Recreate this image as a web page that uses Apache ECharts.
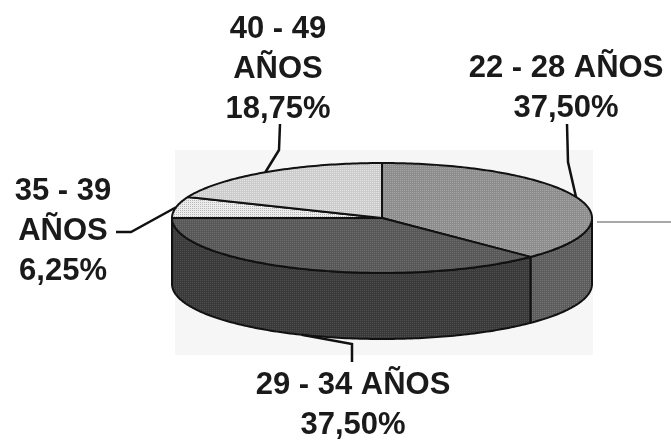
<!DOCTYPE html>
<html>
<head>
<meta charset="utf-8">
<script src="https://cdn.jsdelivr.net/npm/echarts@6/dist/echarts.min.js"></script>
<style>
  html, body { margin: 0; padding: 0; background: #ffffff; }
  #chart { width: 671px; height: 444px; }
</style>
</head>
<body>
<div id="chart"></div>
<script>
// Age groups and their share of the total (percent)
var categories = ['22 - 28 AÑOS', '29 - 34 AÑOS', '35 - 39 AÑOS', '40 - 49 AÑOS'];
var shares = [37.50, 37.50, 6.25, 18.75];

// Tilted pie geometry
var PIE = { cx: 382, cy: 218, rx: 210, ry: 55, depth: 66 };

// Per-slice fills: top face and side wall, with the dot texture tone
var sliceStyles = [
  { top: '#8c8c8c', topDot: '#a8a8a8', side: '#5c5c5c', sideDot: '#767676' },
  { top: '#575757', topDot: '#6e6e6e', side: '#3a3a3a', sideDot: '#4e4e4e' },
  { top: '#ececec', topDot: '#b8b8b8', side: '#cfcfcf', sideDot: '#aaaaaa' },
  { top: '#cbcbcb', topDot: '#e6e6e6', side: '#9c9c9c', sideDot: '#b4b4b4' }
];

// Label placement: text centre, line breaking, leader knee points
var labelLayout = [
  { x: 566, y: 88, wrap: false, lead: [[567, 124], [568, 162]], onSide: false },
  { x: 353, y: 405, wrap: false, lead: [[352, 362], [352, 344]], onSide: true },
  { x: 63, y: 231, wrap: true, lead: [[116, 232], [131, 232]], onSide: false },
  { x: 278, y: 69, wrap: true, lead: [[280, 124], [279, 150]], onSide: false }
];

function makePattern(base, dot) {
  var c = document.createElement('canvas');
  c.width = 4; c.height = 4;
  var g = c.getContext('2d');
  g.fillStyle = base; g.fillRect(0, 0, 4, 4);
  g.fillStyle = dot;
  g.fillRect(0, 0, 1, 1); g.fillRect(2, 2, 1, 1);
  g.fillRect(2, 0, 1, 1); g.fillRect(0, 2, 1, 1);
  return { image: c, repeat: 'repeat' };
}

function rimPoint(deg, dy) {
  var t = deg * Math.PI / 180;
  return [PIE.cx + PIE.rx * Math.sin(t), PIE.cy - PIE.ry * Math.cos(t) + (dy || 0)];
}

function arcPoints(a0, a1, dy) {
  var pts = [];
  var n = Math.max(2, Math.ceil(Math.abs(a1 - a0)));
  for (var i = 0; i <= n; i++) pts.push(rimPoint(a0 + (a1 - a0) * i / n, dy));
  return pts;
}

function fmtPct(v) { return v.toFixed(2).replace('.', ',') + '%'; }

var total = shares.reduce(function (s, v) { return s + v; }, 0);
var starts = [];
(function () {
  var acc = 0;
  for (var i = 0; i < shares.length; i++) { starts.push(acc / total * 360); acc += shares[i]; }
})();

function renderSlice(params, api) {
  var i = params.dataIndex;
  var value = api.value(0);
  var a0 = starts[i];
  var a1 = a0 + value / total * 360;
  var st = sliceStyles[i];
  var children = [];

  // Side wall: only the front half of the rim (90..270 deg) is visible
  var s = Math.max(a0, 90), e = Math.min(a1, 270);
  if (e > s) {
    var upper = arcPoints(s, e, 0);
    var lower = arcPoints(e, s, PIE.depth);
    children.push({
      type: 'polygon',
      shape: { points: upper.concat(lower) },
      style: { fill: makePattern(st.side, st.sideDot), stroke: '#111', lineWidth: 2, lineJoin: 'round' },
      z2: 1
    });
  }

  // Top face
  var topPts = [[PIE.cx, PIE.cy]].concat(arcPoints(a0, a1, 0));
  children.push({
    type: 'polygon',
    shape: { points: topPts },
    style: { fill: makePattern(st.top, st.topDot), stroke: '#111', lineWidth: 2, lineJoin: 'round' },
    z2: 5
  });

  // Leader line to the slice's middle angle
  var lay = labelLayout[i];
  var mid = (a0 + a1) / 2;
  var end = rimPoint(mid, lay.onSide ? PIE.depth : 0);
  children.push({
    type: 'polyline',
    shape: { points: lay.lead.concat([end]) },
    style: { fill: null, stroke: '#111', lineWidth: 2.5 },
    z2: 8
  });

  // Category name and share
  var name = categories[i];
  var text = lay.wrap ? name.replace(' AÑOS', '\nAÑOS') : name;
  children.push({
    type: 'text',
    style: {
      text: text + '\n' + fmtPct(value),
      x: lay.x, y: lay.y,
      align: 'center', verticalAlign: 'middle',
      font: 'bold 31px "Liberation Sans", Arial, sans-serif',
      lineHeight: 40,
      fill: '#1a1a1a'
    },
    z2: 10
  });

  return { type: 'group', children: children };
}

var chart = echarts.init(document.getElementById('chart'), null, { renderer: 'canvas' });
chart.setOption({
  backgroundColor: '#ffffff',
  animation: false,
  graphic: [
    { type: 'rect', shape: { x: 175, y: 150, width: 418, height: 205 }, style: { fill: '#f6f6f6' }, z: -10 },
    { type: 'line', shape: { x1: 597, y1: 222, x2: 671, y2: 222 }, style: { stroke: '#a8a8a8', lineWidth: 2 }, z: -5 }
  ],
  series: [{
    type: 'custom',
    coordinateSystem: 'none',
    renderItem: renderSlice,
    data: shares.map(function (v) { return [v]; })
  }]
});
</script>
</body>
</html>
